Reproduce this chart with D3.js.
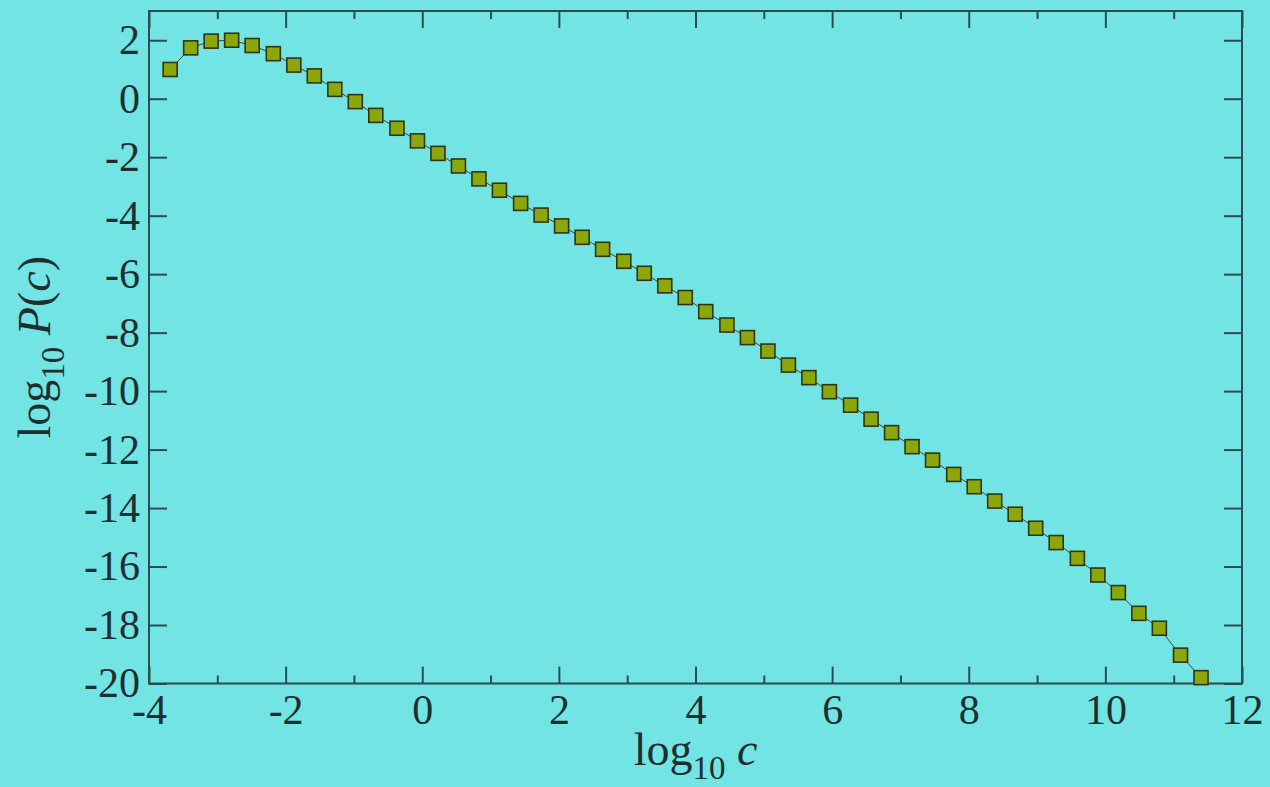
<!DOCTYPE html>
<html>
<head>
<meta charset="utf-8">
<script src="https://cdn.jsdelivr.net/npm/d3@7"></script>
<style>
  html, body { margin: 0; padding: 0; background: #71e4e3; }
  #chart svg { display: block; }
</style>
</head>
<body>
<div id="chart"></div>
<script>
const width = 1270;
const height = 787;

// log10 c (bin centres) and log10 P(c)
const logC = [-3.69, -3.39, -3.09, -2.79, -2.49, -2.18, -1.88, -1.58, -1.28, -0.98,
  -0.68, -0.37, -0.07, 0.23, 0.53, 0.83, 1.13, 1.44, 1.74, 2.04,
  2.34, 2.64, 2.95, 3.25, 3.55, 3.85, 4.15, 4.46, 4.76, 5.06,
  5.36, 5.66, 5.96, 6.27, 6.57, 6.87, 7.17, 7.47, 7.78, 8.08,
  8.38, 8.68, 8.98, 9.28, 9.59, 9.89, 10.19, 10.49, 10.79, 11.10, 11.40];
const logP = [1.00, 1.74, 1.97, 2.00, 1.82, 1.54, 1.15, 0.78, 0.32, -0.10,
  -0.57, -1.01, -1.44, -1.87, -2.30, -2.74, -3.13, -3.58, -3.98, -4.35,
  -4.74, -5.15, -5.56, -5.97, -6.40, -6.80, -7.28, -7.74, -8.17, -8.63,
  -9.11, -9.54, -10.02, -10.48, -10.96, -11.42, -11.90, -12.36, -12.85, -13.27,
  -13.76, -14.21, -14.69, -15.18, -15.72, -16.29, -16.89, -17.60, -18.11, -19.03, -19.80];

const xMajor = [-4, -2, 0, 2, 4, 6, 8, 10, 12];
const xMinor = [-3, -1, 1, 3, 5, 7, 9, 11];
const yMajor = [2, 0, -2, -4, -6, -8, -10, -12, -14, -16, -18, -20];

const margin = { top: 11, right: 28, bottom: 103.5, left: 149 };
const iw = width - margin.left - margin.right;
const ih = height - margin.top - margin.bottom;

const axisColor = "#2b4d4d";
const serif = "'Liberation Serif', 'Times New Roman', serif";

const svg = d3.select("#chart")
  .append("svg")
  .attr("width", width)
  .attr("height", height);

svg.append("rect")
  .attr("width", width)
  .attr("height", height)
  .attr("fill", "#71e4e3");

const g = svg.append("g")
  .attr("transform", `translate(${margin.left},${margin.top})`);

const x = d3.scaleLinear().domain([-4, 12]).range([0, iw]);
const y = d3.scaleLinear().domain([-20, 3]).range([ih, 0]);

function styleAxis(sel) {
  sel.select(".domain").remove();
  sel.selectAll("line").attr("stroke", axisColor).attr("stroke-width", 2);
  sel.selectAll("text")
    .attr("fill", "#1f2f30")
    .attr("font-family", serif)
    .attr("font-size", 42);
}

// bottom axis
g.append("g")
  .attr("transform", `translate(0,${ih})`)
  .call(d3.axisBottom(x).tickValues(xMajor).tickFormat(d => String(d))
    .tickSizeInner(-17).tickSizeOuter(0).tickPadding(11))
  .call(styleAxis);
g.append("g")
  .attr("transform", `translate(0,${ih})`)
  .call(d3.axisBottom(x).tickValues(xMinor).tickFormat("")
    .tickSizeInner(-8).tickSizeOuter(0))
  .call(styleAxis);

// top axis (ticks only)
g.append("g")
  .call(d3.axisTop(x).tickValues(xMajor).tickFormat("")
    .tickSizeInner(-17).tickSizeOuter(0))
  .call(styleAxis);
g.append("g")
  .call(d3.axisTop(x).tickValues(xMinor).tickFormat("")
    .tickSizeInner(-8).tickSizeOuter(0))
  .call(styleAxis);

// left axis
g.append("g")
  .call(d3.axisLeft(y).tickValues(yMajor).tickFormat(d => String(d))
    .tickSizeInner(-18).tickSizeOuter(0).tickPadding(9))
  .call(styleAxis);

// right axis (ticks only)
g.append("g")
  .attr("transform", `translate(${iw},0)`)
  .call(d3.axisRight(y).tickValues(yMajor).tickFormat("")
    .tickSizeInner(-18).tickSizeOuter(0))
  .call(styleAxis);

// frame
g.append("rect")
  .attr("width", iw)
  .attr("height", ih)
  .attr("fill", "none")
  .attr("stroke", axisColor)
  .attr("stroke-width", 2);

const pts = logC.map((c, i) => ({ c: c, p: logP[i] }));

// thin connecting line
g.append("path")
  .datum(pts)
  .attr("fill", "none")
  .attr("stroke", "#3c4a2a")
  .attr("stroke-width", 1)
  .attr("d", d3.line().x(d => x(d.c)).y(d => y(d.p)));

const s = 14;
g.selectAll(".pt")
  .data(pts)
  .join("rect")
  .attr("class", "pt")
  .attr("x", d => x(d.c) - s / 2)
  .attr("y", d => y(d.p) - s / 2)
  .attr("width", s)
  .attr("height", s)
  .attr("fill", "#8ca70c")
  .attr("stroke", "#2e3514")
  .attr("stroke-width", 1.6);

// axis titles
const xt = svg.append("text")
  .attr("x", margin.left + iw / 2)
  .attr("y", 765)
  .attr("text-anchor", "middle")
  .attr("font-family", serif)
  .attr("font-size", 46)
  .attr("fill", "#1f2f30");
xt.append("tspan").text("log");
xt.append("tspan").attr("font-size", 33).attr("dy", 14).text("10");
xt.append("tspan").attr("dy", -14).text(" ");
xt.append("tspan").attr("font-style", "italic").text("c");

const yt = svg.append("text")
  .attr("transform", `translate(50,${margin.top + ih / 2}) rotate(-90)`)
  .attr("text-anchor", "middle")
  .attr("font-family", serif)
  .attr("font-size", 46)
  .attr("fill", "#1f2f30");
yt.append("tspan").text("log");
yt.append("tspan").attr("font-size", 33).attr("dy", 14).text("10");
yt.append("tspan").attr("dy", -14).text(" ");
yt.append("tspan").attr("font-style", "italic").text("P");
yt.append("tspan").text("(");
yt.append("tspan").attr("font-style", "italic").text("c");
yt.append("tspan").text(")");
</script>
</body>
</html>
